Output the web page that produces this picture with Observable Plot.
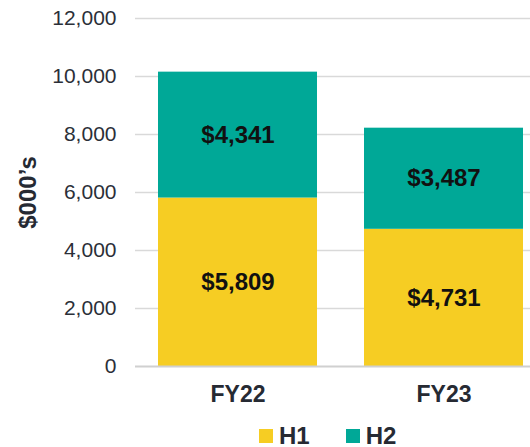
<!DOCTYPE html>
<html>
<head>
<meta charset="utf-8">
<script src="https://cdn.jsdelivr.net/npm/d3@7"></script>
<script src="https://cdn.jsdelivr.net/npm/@observablehq/plot@0.6"></script>
<style>
  html, body { margin: 0; padding: 0; background: #fff; overflow: hidden; }
  #chart svg { display: block; }
  .legend { display: flex; align-items: center; padding-left: 259px; height: 24px;
            font-family: "Liberation Sans", Arial, sans-serif; font-weight: bold; font-size: 24px;
            line-height: 24px; color: #262a33; }
  .legend .item { display: flex; align-items: center; margin-right: 36px; }
  .legend .sw { width: 14px; height: 14px; margin-right: 6px; }
</style>
</head>
<body>
<div id="chart"></div>
<script>
const years = ["FY22", "FY23"];
const series = ["H1", "H2"];
const h1 = [5809, 4731];
const h2 = [4341, 3487];
const yTicks = [0, 2000, 4000, 6000, 8000, 10000, 12000];
const colors = ["#F6CD23", "#00A897"];

const rows = [];
years.forEach((yr, i) => {
  rows.push({year: yr, series: "H1", value: h1[i]});
  rows.push({year: yr, series: "H2", value: h2[i]});
});

const font = '"Liberation Sans", Arial, sans-serif';
const fmt = d3.format(",");

const chart = Plot.plot({
  width: 530,
  height: 424,
  marginTop: 18,
  marginBottom: 58,
  marginLeft: 135,
  marginRight: 0,
  style: {fontFamily: font, background: "#fff", overflow: "visible"},
  x: {domain: years, paddingInner: 0.228, paddingOuter: 0.0726, align: 0.77, label: null},
  y: {domain: [0, 12000], label: null},
  color: {domain: series, range: colors},
  marks: [
    Plot.ruleY(yTicks.filter(d => d > 0), {stroke: "#d9d9d9", strokeWidth: 1.3}),
    Plot.barY(rows, Plot.stackY({x: "year", y: "value", fill: "series", z: "series"})),
    Plot.ruleY([0], {stroke: "#d0d0d0", strokeWidth: 2}),
    Plot.text(rows, Plot.stackY({x: "year", y: "value", z: "series",
      text: d => "$" + fmt(d.value), fill: "#111", fontSize: 24, fontWeight: "bold"})),
    Plot.axisY({ticks: yTicks, tickSize: 0, tickPadding: 19, tickFormat: d => fmt(d),
      fontSize: 21, fill: "#2b2f38", label: "$000’s", labelAnchor: "center", labelArrow: "none",
      labelOffset: 117}),
    Plot.axisX({tickSize: 0, tickPadding: 19, fontSize: 23, fontWeight: "bold", fill: "#262a33", label: null})
  ]
});
document.getElementById("chart").appendChild(chart);

// style the y-axis label
chart.querySelectorAll("g[aria-label='y-axis label'] text").forEach(t => {
  t.setAttribute("font-weight", "bold");
  t.setAttribute("font-size", 24);
  t.setAttribute("fill", "#262a33");
});

const legend = document.createElement("div");
legend.className = "legend";
series.forEach((s, i) => {
  const item = document.createElement("div");
  item.className = "item";
  const sw = document.createElement("div");
  sw.className = "sw";
  sw.style.background = colors[i];
  const lab = document.createElement("span");
  lab.textContent = s;
  item.appendChild(sw);
  item.appendChild(lab);
  legend.appendChild(item);
});
document.body.appendChild(legend);
</script>
</body>
</html>
